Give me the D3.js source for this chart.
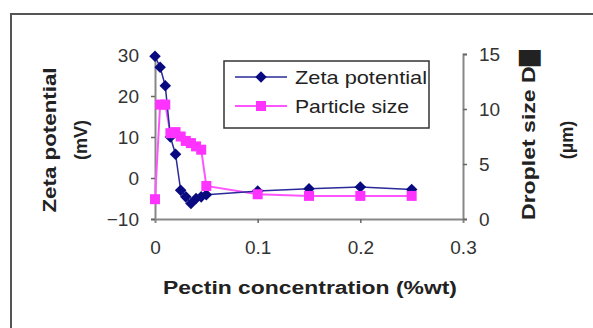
<!DOCTYPE html>
<html>
<head>
<meta charset="utf-8">
<script src="https://cdn.jsdelivr.net/npm/d3@7"></script>
<style>
  body { margin: 0; background: #fff; overflow: hidden; }
  svg { display: block; font-family: "Liberation Sans", Arial, sans-serif; }
</style>
</head>
<body>
<svg id="chart" width="593" height="328"></svg>
<script>
// data
const pectin = [0, 0.005, 0.01, 0.015, 0.02, 0.025, 0.03, 0.035, 0.04, 0.045, 0.05, 0.1, 0.15, 0.2, 0.25];
const zeta = [29.7, 27, 22.5, 10, 5.8, -3, -4.6, -6.2, -5, -4.6, -4.1, -3.2, -2.6, -2.2, -2.8];
const particle = [1.8, 10.4, 10.4, 7.8, 7.9, 7.5, 7.1, 6.9, 6.6, 6.3, 3.0, 2.25, 2.1, 2.1, 2.1];
const xTicks = [0, 0.1, 0.2, 0.3];
const leftTicks = [-10, 0, 10, 20, 30];
const rightTicks = [0, 5, 10, 15];

const svg = d3.select("#chart");

// outer frame (runs off the right and bottom edge)
svg.append("rect")
  .attr("x", 11).attr("y", 14)
  .attr("width", 700).attr("height", 400)
  .attr("fill", "none").attr("stroke", "#555").attr("stroke-width", 2);

const x = d3.scaleLinear().domain([0, 0.3]).range([155, 463]);
const yL = d3.scaleLinear().domain([-10, 30]).range([219, 55]);
const yR = d3.scaleLinear().domain([0, 15]).range([219, 54]);

const axisColor = "#888";

// x axis
const gx = svg.append("g").attr("transform", "translate(0,219)")
  .call(d3.axisBottom(x).tickValues(xTicks).tickFormat(d3.format("")).tickSize(4).tickPadding(18));
// left axis
const gl = svg.append("g").attr("transform", "translate(155,0)")
  .call(d3.axisLeft(yL).tickValues(leftTicks).tickSize(4).tickPadding(12));
// right axis
const gr = svg.append("g").attr("transform", "translate(463,0)")
  .call(d3.axisRight(yR).tickValues(rightTicks).tickSize(4).tickPadding(12));

[gx, gl, gr].forEach(g => {
  g.select(".domain").attr("stroke", axisColor).attr("stroke-width", 2);
  g.selectAll(".tick line").attr("stroke", "#666").attr("stroke-width", 1.5);
  g.selectAll(".tick text").attr("fill", "#333").style("font-size", "19px");
});
gx.selectAll(".tick").filter(d => d === 0 || d === 0.3).select("line").remove();

// series lines
const lineZ = d3.line().x((d, i) => x(pectin[i])).y(d => yL(d));
const lineP = d3.line().x((d, i) => x(pectin[i])).y(d => yR(d));

svg.append("path").datum(particle).attr("d", lineP)
  .attr("fill", "none").attr("stroke", "#ff55ff").attr("stroke-width", 2);
svg.append("path").datum(zeta).attr("d", lineZ)
  .attr("fill", "none").attr("stroke", "#2a2a99").attr("stroke-width", 1.5);

const diamond = d3.symbol().type(d3.symbolDiamond2).size(85);

svg.append("g").selectAll("path").data(zeta).join("path")
  .attr("d", diamond)
  .attr("transform", (d, i) => `translate(${x(pectin[i])},${yL(d)})`)
  .attr("fill", "#0a0a80");

svg.append("g").selectAll("rect").data(particle).join("rect")
  .attr("x", (d, i) => x(pectin[i]) - 5)
  .attr("y", d => yR(d) - 5)
  .attr("width", 10).attr("height", 10)
  .attr("fill", "#ff33ff");

// legend
const leg = svg.append("g");
leg.append("rect").attr("x", 224).attr("y", 61).attr("width", 205).attr("height", 67)
  .attr("fill", "#fff").attr("stroke", "#333").attr("stroke-width", 1.5);
const legItems = [
  { label: "Zeta potential", color: "#2a2a99", y: 77 },
  { label: "Particle size", color: "#ff55ff", y: 106 }
];
legItems.forEach((it, k) => {
  leg.append("line").attr("x1", 235).attr("x2", 287).attr("y1", it.y).attr("y2", it.y)
    .attr("stroke", it.color).attr("stroke-width", k ? 2 : 1.5);
  if (k === 0) {
    leg.append("path").attr("d", diamond).attr("transform", `translate(261,${it.y})`).attr("fill", "#0a0a80");
  } else {
    leg.append("rect").attr("x", 256).attr("y", it.y - 5).attr("width", 10).attr("height", 10).attr("fill", "#ff33ff");
  }
  leg.append("text").attr("x", 295).attr("y", it.y + 6.5)
    .attr("textLength", k ? 114 : 132).attr("lengthAdjust", "spacingAndGlyphs")
    .style("font-size", "19px").attr("fill", "#222").text(it.label);
});

// axis titles
svg.append("text").attr("x", 310).attr("y", 294).attr("text-anchor", "middle")
  .attr("textLength", 294).attr("lengthAdjust", "spacingAndGlyphs")
  .style("font-size", "18px").style("font-weight", "bold").attr("fill", "#222")
  .text("Pectin concentration (%wt)");

svg.append("text").attr("transform", "translate(56,140) rotate(-90)").attr("text-anchor", "middle")
  .attr("textLength", 145).attr("lengthAdjust", "spacingAndGlyphs")
  .style("font-size", "18px").style("font-weight", "bold").attr("fill", "#222")
  .text("Zeta potential");
svg.append("text").attr("transform", "translate(87,140) rotate(-90)").attr("text-anchor", "middle")
  .style("font-size", "18px").style("font-weight", "bold").attr("fill", "#222")
  .text("(mV)");

svg.append("text").attr("transform", "translate(535,135) rotate(-90)").attr("text-anchor", "middle")
  .attr("textLength", 170).attr("lengthAdjust", "spacingAndGlyphs")
  .style("font-size", "18px").style("font-weight", "bold").attr("fill", "#222")
  .text("Droplet size D█");
svg.append("text").attr("transform", "translate(573,140) rotate(-90)").attr("text-anchor", "middle")
  .style("font-size", "18px").style("font-weight", "bold").attr("fill", "#222")
  .text("(µm)");
</script>
</body>
</html>
